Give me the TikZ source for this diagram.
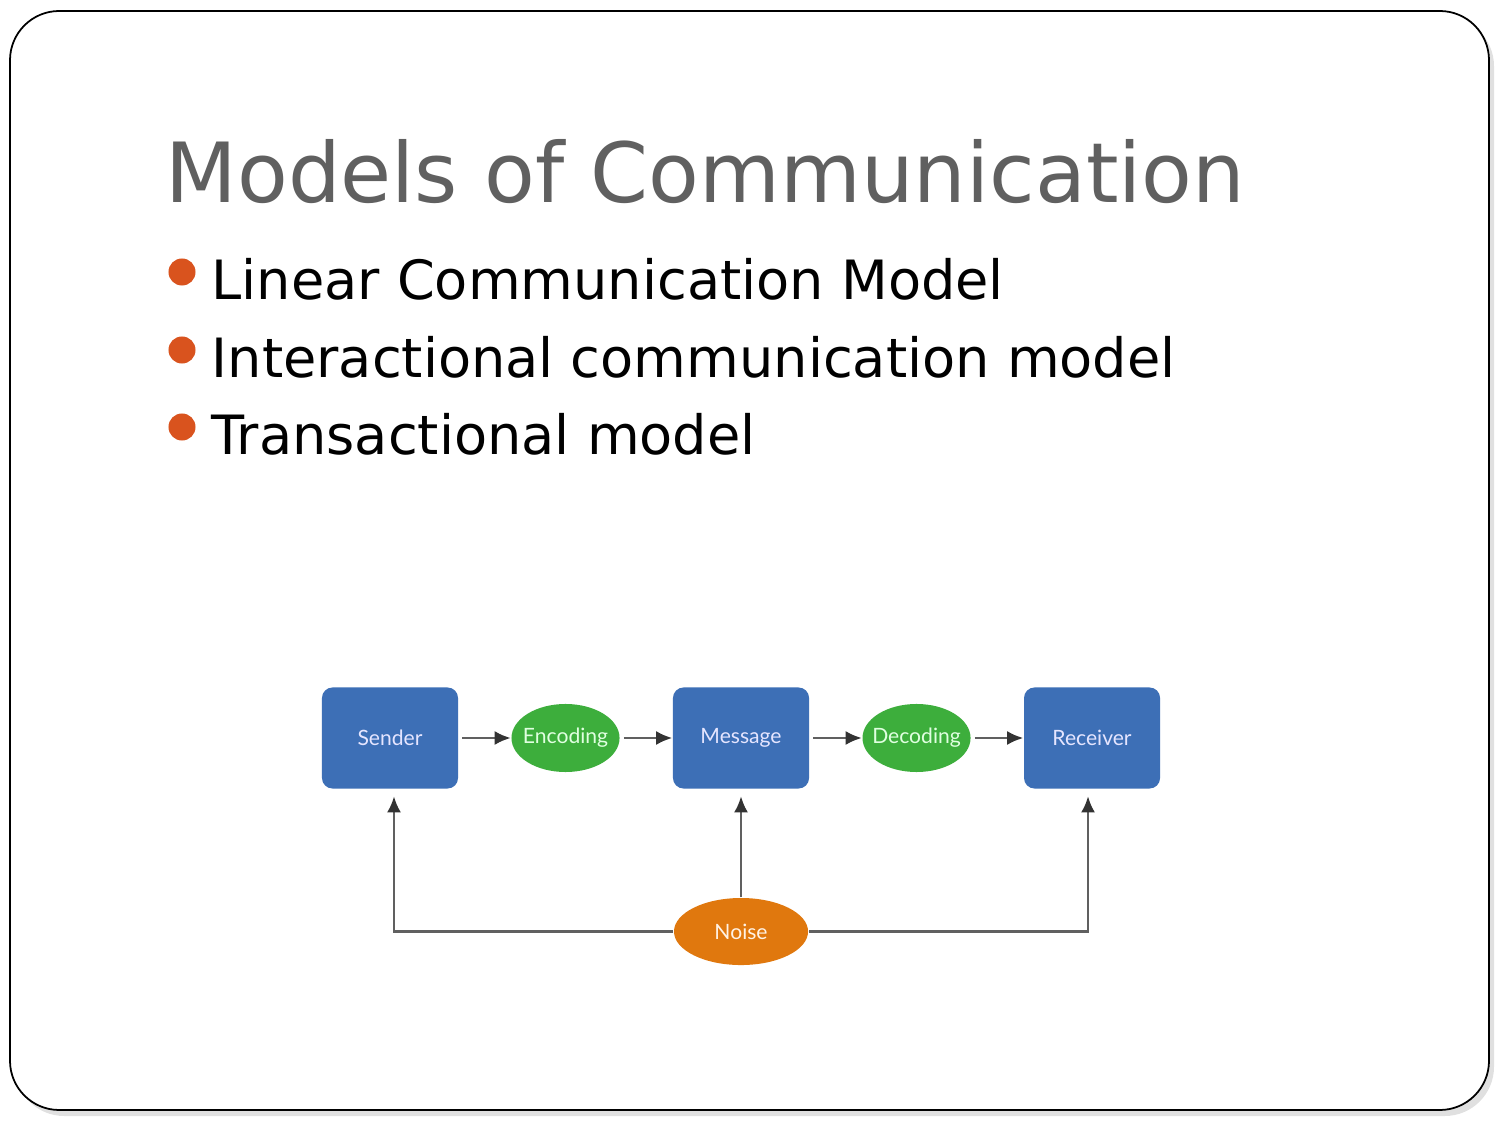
\documentclass[tikz,border=0pt]{standalone}
\usepackage{fontspec}
\setmainfont{DejaVu Sans}
\newfontfamily\diagfont{Lato}
\usepackage{xcolor}
\usetikzlibrary{shapes.geometric, arrows.meta, positioning}

\definecolor{boxblue}{HTML}{3D6FB6}
\definecolor{codegreen}{HTML}{3DAE3C}
\definecolor{noiseorange}{HTML}{E0780E}
\definecolor{bulletred}{HTML}{D9531E}
\definecolor{titlegray}{HTML}{606060}

\begin{document}
\begin{tikzpicture}[
  x=0.01cm, y=-0.01cm,
  node distance=0.52cm,
  block/.style={rectangle, fill=boxblue, rounded corners=3pt, minimum width=1.36cm,
                minimum height=1.01cm, text=white!90!blue, font=\diagfont\fontsize{6}{7}\selectfont},
  code/.style={ellipse, fill=codegreen, minimum width=1.08cm, minimum height=0.68cm,
               inner sep=-2pt, text=white!88!green, font=\diagfont\fontsize{6}{7}\selectfont},
  noise/.style={ellipse, fill=noiseorange, minimum width=1.34cm, minimum height=0.67cm,
                inner sep=-2pt, text=white!90!orange, font=\diagfont\fontsize{6}{7}\selectfont},
  arrow/.style={-{Latex[length=4.6pt, width=4pt, color=black!80]}, gray!75!black, line width=0.7pt},
  bulletdot/.style={circle, fill=bulletred, inner sep=0pt, minimum size=0.27cm},
  itemtext/.style={anchor=base west, inner sep=0pt, font=\fontsize{15.4}{18}\selectfont}
]
\useasboundingbox (0,0) rectangle (1500,1125);

% slide frame
\fill[black, opacity=0.12, rounded corners=14pt] (15,17) rectangle (1494,1116);
\draw[black, line width=0.5pt, fill=white, rounded corners=14pt] (10,11) rectangle (1489,1110);

% title and bullets
\node (title) [anchor=base west, inner sep=0pt, text=titlegray, font=\fontsize{23.6}{28}\selectfont]
  at (165,203) {Models of Communication};
\node (b1) [bulletdot] at (182,272) {};
\node (b2) [bulletdot] at (182,350) {};
\node (b3) [bulletdot] at (182,427) {};
\node (t1) [itemtext] at (211,300) {Linear Communication Model};
\node (t2) [itemtext] at (211,378) {Interactional communication model};
\node (t3) [itemtext] at (211,455) {Transactional model};

% linear model
\node (sender) [block] at (390,738)         {Sender};
\node (enc)    [code, right=of sender]      {Encoding};
\node (msg)    [block, right=of enc]        {Message};
\node (dec)    [code, right=of msg]         {Decoding};
\node (recv)   [block, right=of dec]        {Receiver};
\node (noise)  [noise, below=1.08cm of msg] {Noise};

\draw [arrow, shorten <=1pt] (sender) -- (enc);
\draw [arrow, shorten <=1pt] (enc) -- (msg);
\draw [arrow, shorten <=1pt] (msg) -- (dec);
\draw [arrow, shorten <=1pt] (dec) -- (recv);
\draw [arrow, shorten >=2pt] (noise) -- (msg);
\draw [arrow, shorten >=2pt] (noise.west) -| ([xshift=0.04cm]sender.south);
\draw [arrow, shorten >=2pt] (noise.east) -| ([xshift=-0.04cm]recv.south);
\end{tikzpicture}
\end{document}
